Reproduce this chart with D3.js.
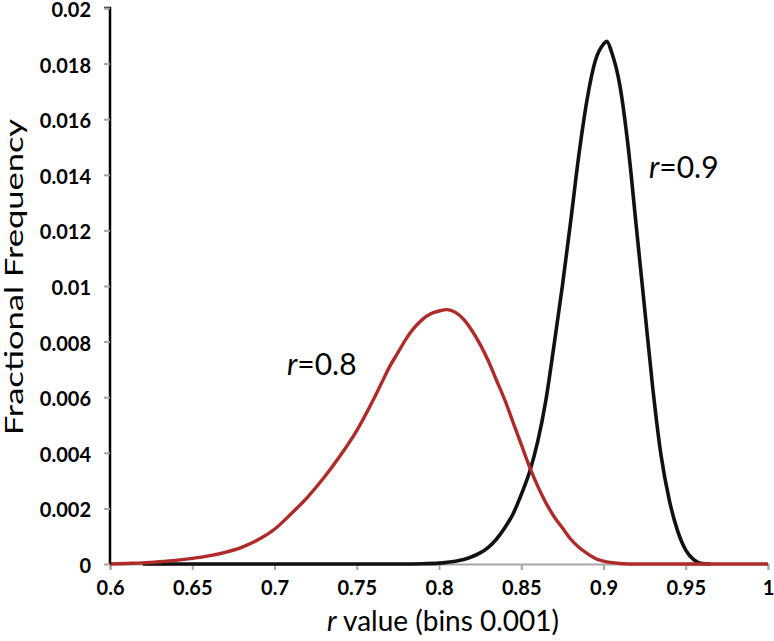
<!DOCTYPE html>
<html>
<head>
<meta charset="utf-8">
<script src="https://cdn.jsdelivr.net/npm/d3@7"></script>
<style>
  body { margin: 0; background: #fff; }
  text { font-family: Lato, "Open Sans", sans-serif; }
</style>
</head>
<body>
<script>
// r = 0.8 series: [r value, fractional frequency]
const r08 = [
  [0.600, 0], [0.610, 0.00002], [0.620, 0.00004], [0.630, 0.00008], [0.640, 0.00013],
  [0.650, 0.0002], [0.660, 0.00029], [0.670, 0.00042], [0.680, 0.0006], [0.690, 0.00087],
  [0.700, 0.00125], [0.710, 0.0018], [0.720, 0.0024], [0.730, 0.0031], [0.740, 0.0039],
  [0.750, 0.0048], [0.760, 0.0059], [0.765, 0.0065], [0.770, 0.0071], [0.775, 0.0076],
  [0.780, 0.0081], [0.785, 0.0085], [0.790, 0.0088], [0.795, 0.0090], [0.800, 0.0091],
  [0.805, 0.00915], [0.810, 0.00905], [0.815, 0.0088], [0.820, 0.0084], [0.825, 0.0079],
  [0.830, 0.0073], [0.835, 0.0066], [0.840, 0.0059], [0.845, 0.0051], [0.850, 0.0043],
  [0.855, 0.0035], [0.860, 0.0028], [0.865, 0.0022], [0.870, 0.0017], [0.875, 0.0013],
  [0.880, 0.0009], [0.885, 0.0006], [0.890, 0.00038], [0.895, 0.0002], [0.900, 0.0001],
  [0.910, 0.00002], [0.920, 0], [1.000, 0]
];

// r = 0.9 series
const r09 = [
  [0.620, 0], [0.780, 0], [0.790, 0.00001], [0.800, 0.00003], [0.805, 0.00006],
  [0.810, 0.0001], [0.815, 0.00016], [0.820, 0.00026], [0.825, 0.0004], [0.830, 0.0006],
  [0.835, 0.0009], [0.840, 0.0013], [0.845, 0.0018], [0.850, 0.0025], [0.855, 0.0033],
  [0.860, 0.0044], [0.865, 0.0059], [0.870, 0.0079], [0.875, 0.0100], [0.880, 0.0123],
  [0.885, 0.0147], [0.890, 0.0167], [0.895, 0.0181], [0.900, 0.0187], [0.902, 0.0188],
  [0.905, 0.0184], [0.910, 0.0172], [0.915, 0.0150], [0.920, 0.0121], [0.925, 0.0092],
  [0.930, 0.0063], [0.935, 0.0039], [0.940, 0.0023], [0.945, 0.0012], [0.950, 0.0005],
  [0.955, 0.00015], [0.960, 0.00002], [0.965, 0]
];

const xTicks = [0.6, 0.65, 0.7, 0.75, 0.8, 0.85, 0.9, 0.95, 1];
const yTicks = [0, 0.002, 0.004, 0.006, 0.008, 0.01, 0.012, 0.014, 0.016, 0.018, 0.02];

const width = 774, height = 641;
const margin = {top: 8, right: 6, bottom: 77, left: 110};

const x = d3.scaleLinear([0.6, 1], [margin.left, width - margin.right]);
const y = d3.scaleLinear([0, 0.02], [height - margin.bottom, margin.top]);

const svg = d3.select("body").append("svg")
    .attr("width", width)
    .attr("height", height);

// x axis (grey)
svg.append("g")
    .attr("transform", `translate(0,${y(0)})`)
    .call(d3.axisBottom(x).tickValues(xTicks).tickSize(6).tickPadding(11)
      .tickFormat(d => String(d)))
    .call(g => g.select(".domain").attr("stroke", "#a6a6a6").attr("stroke-width", 2))
    .call(g => g.selectAll(".tick line").attr("stroke", "#a6a6a6").attr("stroke-width", 2))
    .call(g => g.selectAll(".tick text")
      .attr("fill", "#000").attr("font-size", 20).attr("font-weight", 700)
      .attr("font-family", "Lato, sans-serif"));

const line = d3.line()
    .x(d => x(d[0]))
    .y(d => y(d[1]))
    .curve(d3.curveMonotoneX);

svg.append("path")
    .datum(r09)
    .attr("fill", "none")
    .attr("stroke", "#111")
    .attr("stroke-width", 3.6)
    .attr("stroke-linejoin", "round")
    .attr("d", line);

svg.append("path")
    .datum(r08)
    .attr("fill", "none")
    .attr("stroke", "#b02a2a")
    .attr("stroke-width", 3.4)
    .attr("stroke-linejoin", "round")
    .attr("d", line);

// y axis (black line, grey ticks)
svg.append("g")
    .attr("transform", `translate(${x(0.6)},0)`)
    .call(d3.axisLeft(y).tickValues(yTicks).tickSize(6).tickPadding(13)
      .tickFormat(d => String(+d.toFixed(3))))
    .call(g => g.select(".domain").attr("stroke", "#000").attr("stroke-width", 2.5)
      .attr("d", `M0,${y(0)}V${y(0.02)}H-6`))
    .call(g => g.selectAll(".tick line").attr("stroke", "#a6a6a6").attr("stroke-width", 2))
    .call(g => g.selectAll(".tick text")
      .attr("dy", "0.42em")
      .attr("fill", "#000").attr("font-size", 20).attr("font-weight", 700)
      .attr("font-family", "Lato, sans-serif"));

// axis titles
svg.append("text")
    .attr("x", 443)
    .attr("y", 631)
    .attr("text-anchor", "middle")
    .attr("font-size", 28)
    .html('<tspan font-style="italic">r</tspan> value (bins 0.001)');

svg.append("text")
    .attr("transform", "translate(23,277) rotate(-90) scale(1.38,1)")
    .attr("text-anchor", "middle")
    .attr("font-size", 25)
    .text("Fractional Frequency");

// series labels
svg.append("text")
    .attr("x", 649)
    .attr("y", 178)
    .attr("font-size", 30)
    .html('<tspan font-style="italic">r</tspan>=0.9');

svg.append("text")
    .attr("x", 287)
    .attr("y", 375)
    .attr("font-size", 30)
    .html('<tspan font-style="italic">r</tspan>=0.8');
</script>
</body>
</html>
